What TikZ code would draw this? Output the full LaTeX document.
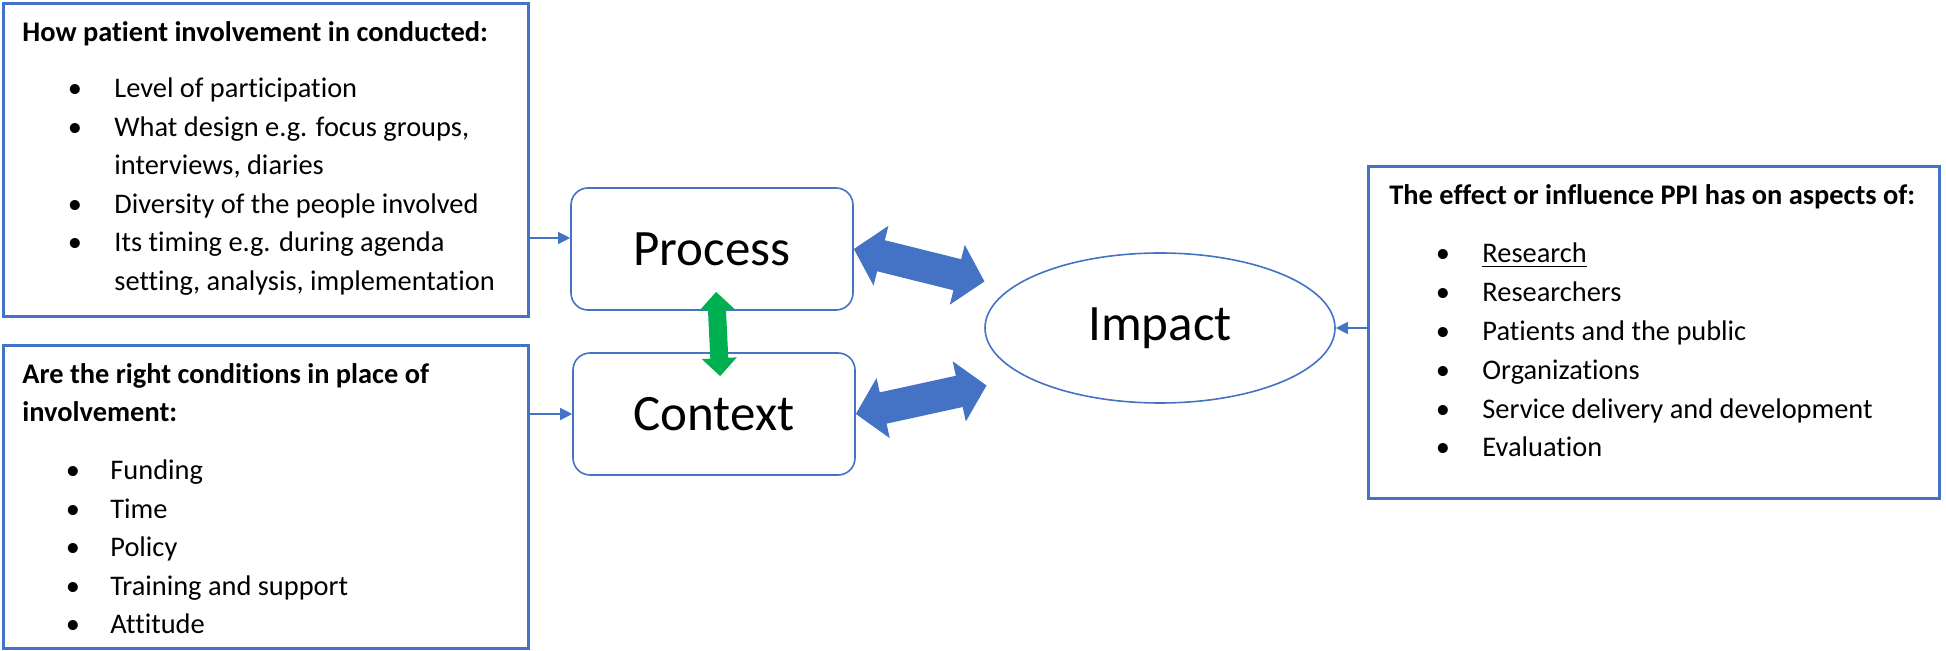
\documentclass[tikz,border=0pt]{standalone}
\usepackage{fontspec}
\setmainfont{Carlito}[Ligatures={NoCommon}]
\usetikzlibrary{shapes.geometric, arrows.meta}

\definecolor{ppiblue}{HTML}{4472C4}
\definecolor{ppigreen}{HTML}{00B050}

\tikzset{
    outerbox/.style={draw=ppiblue, line width=1.5pt, inner sep=0pt},
    stagebox/.style={draw=ppiblue, line width=0.8pt, rounded corners=8.5pt, minimum width=141pt, minimum height=61pt, font=\fontsize{25.5}{30}\selectfont},
    itemtext/.style={anchor=base west, inner sep=0pt, font=\fontsize{14.2}{17}\selectfont},
    headtext/.style={itemtext, font=\fontsize{14.2}{17}\selectfont\bfseries},
    dot/.style={anchor=base, inner sep=0pt, font=\fontsize{14.2}{17}\selectfont},
    link/.style={ppiblue, line width=0.6pt, -{Triangle[length=6pt, width=6pt]}},
    bigarrow/.style={ppiblue, line width=16pt, {Triangle[length=14pt, width=30pt]}-{Triangle[length=14pt, width=30pt]}},
    greenarrow/.style={ppigreen, line width=9pt, {Triangle[length=9pt, width=17pt]}-{Triangle[length=9pt, width=17pt]}}
}

\begin{document}
\begin{tikzpicture}[x=0.5pt, y=-0.5pt]

    \useasboundingbox (0,0) rectangle (1946,651);

    \node[outerbox, minimum width=262.5pt, minimum height=156.5pt] (how) at (265.5,160.5) {};
    \node[outerbox, minimum width=262.5pt, minimum height=151pt] (cond) at (265.5,497) {};
    \node[outerbox, minimum width=285.5pt, minimum height=165.5pt] (effect) at (1653.5,332.5) {};

    \node[stagebox] (process) at (712,249) {Process};
    \node[stagebox, minimum width=141pt] (context) at (714,414) {Context};
    \node[ellipse, draw=ppiblue, line width=0.8pt, minimum width=175pt, minimum height=75pt, font=\fontsize{25.5}{30}\selectfont] (impact) at (1160,328) {Impact};

    \node[headtext] (howhead) at (22,42) {How patient involvement in conducted:};
    \foreach \b/\y/\txt [count=\i] in {1/98/Level of participation, {1/137/What design e.g. focus groups,}, {0/175/interviews, diaries}, 1/214/Diversity of the people involved, 1/252/Its timing e.g. during agenda, {0/291/setting, analysis, implementation}} {
        \node[itemtext] (how\i) at (114,\y) {\txt};
        \ifnum\b=1 \node[dot] (howdot\i) at (75,\y) {\textbullet}; \fi
    }

    \node[headtext] (condhead) at (22,384) {Are the right conditions in place of};
    \node[headtext] (condhead2) at (22,422) {involvement:};
    \foreach \y/\txt [count=\i] in {480/Funding, 518/Time, 556/Policy, 595/Training and support, 633/Attitude} {
        \node[itemtext] (cond\i) at (110,\y) {\txt};
        \node[dot] (conddot\i) at (73,\y) {\textbullet};
    }

    \node[headtext] (effecthead) at (1389,205) {The effect or influence PPI has on aspects of:};
    \foreach \y/\txt [count=\i] in {263/\underline{Research}, 302/Researchers, 341/Patients and the public, 380/Organizations, 419/Service delivery and development, 457/Evaluation} {
        \node[itemtext] (effect\i) at (1482,\y) {\txt};
        \node[dot] (effectdot\i) at (1443,\y) {\textbullet};
    }

    \draw[link] ([yshift=5.5pt]process.west -| how.east) -- ([yshift=5.5pt]process.west);
    \draw[link] (context.west -| cond.east) -- (context.west);
    \draw[link] (impact.east -| effect.west) -- (impact.east);

    \draw[bigarrow, shorten >=13.5pt] (process.east) -- (impact.165);
    \draw[bigarrow, shorten >=20pt] (context.east) -- (impact.200);
    \draw[greenarrow, shorten <=-9.5pt, shorten >=-12pt] ([xshift=2.5pt]process.south) -- ([xshift=2.5pt]context.north);

\end{tikzpicture}
\end{document}
